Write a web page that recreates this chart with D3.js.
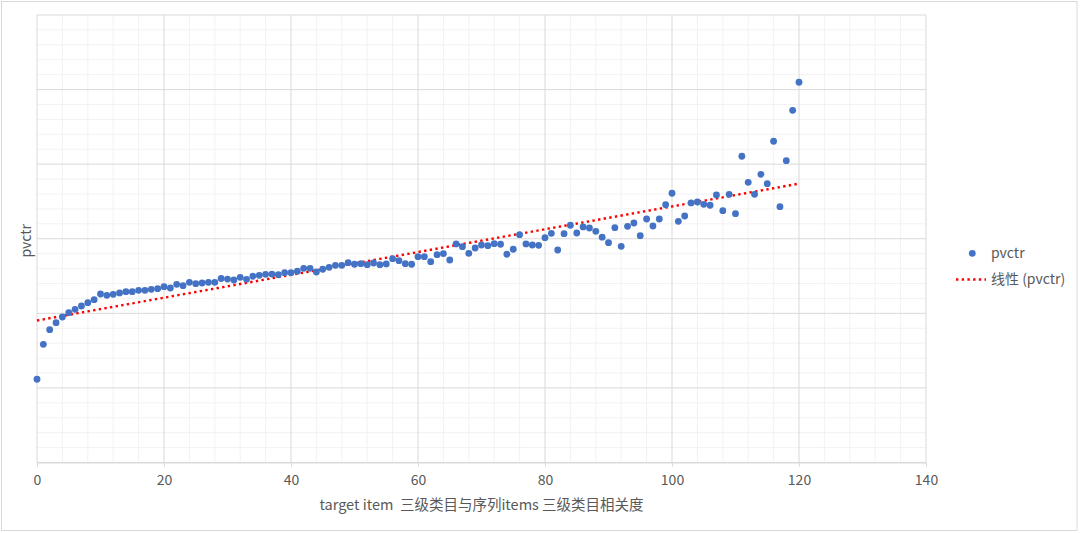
<!DOCTYPE html>
<html><head><meta charset="utf-8">
<script src="https://cdn.jsdelivr.net/npm/d3@7"></script>
<style>
html,body{margin:0;padding:0;background:#fff;}
svg text{font-family:"Noto Sans CJK SC","Noto Sans",sans-serif;fill:#595959;white-space:pre;}
</style></head>
<body><svg id="c" width="1080" height="533"></svg>
<script>
// Data (arbitrary y units; gridlines every 1 unit)
const seriesName = "pvctr";
const trendName = "线性 (pvctr)";
const xTicks = [0, 20, 40, 60, 80, 100, 120, 140];
const xLabel = "target item  三级类目与序列items 三级类目相关度";
const yLabel = "pvctr";
const pvctr = [
 1.116,1.585,1.781,1.875,1.951,2.009,2.054,2.098,2.143,2.183,
 2.259,2.242,2.255,2.273,2.290,2.290,2.309,2.309,2.322,2.330,
 2.357,2.340,2.389,2.371,2.416,2.397,2.407,2.416,2.416,2.467,
 2.460,2.447,2.483,2.456,2.497,2.510,2.523,2.527,2.518,2.545,
 2.545,2.564,2.604,2.604,2.554,2.591,2.617,2.644,2.644,2.679,
 2.658,2.666,2.652,2.675,2.652,2.662,2.733,2.706,2.666,2.658,
 2.759,2.759,2.692,2.786,2.800,2.715,2.930,2.894,2.805,2.876,
 2.916,2.907,2.934,2.926,2.792,2.859,3.054,2.930,2.916,2.912,
 3.014,3.073,2.849,3.068,3.181,3.077,3.158,3.144,3.100,3.021,
 2.947,3.148,2.899,3.167,3.211,3.041,3.265,3.171,3.265,3.457,
 3.610,3.234,3.305,3.480,3.493,3.462,3.449,3.587,3.376,3.596,
 3.336,4.106,3.757,3.596,3.864,3.738,4.307,3.430,4.047,4.722,
 5.098
];
const xVals = pvctr.map((d,i)=>i);

const svg = d3.select("#c");
svg.append("rect").attr("x",1.5).attr("y",1.5).attr("width",1075.5).attr("height",529)
  .attr("fill","#fff").attr("stroke","#D9D9D9").attr("stroke-width",1);

const m = {l:37, r:926, t:15, b:462.5};
const x = d3.scaleLinear().domain([0,140]).range([m.l,m.r]);
const y = d3.scaleLinear().domain([0,6]).range([m.b,m.t]);

const g = svg.append("g");
// minor gridlines
g.selectAll(".mx").data(d3.range(0,141,4).filter(v=>v%20!==0)).join("line")
  .attr("x1",d=>x(d)).attr("x2",d=>x(d)).attr("y1",m.t).attr("y2",m.b)
  .attr("stroke","#F2F2F2");
g.selectAll(".my").data(d3.range(0,6.01,0.2).filter(v=>Math.abs(v-Math.round(v))>0.01)).join("line")
  .attr("y1",d=>y(d)).attr("y2",d=>y(d)).attr("x1",m.l).attr("x2",m.r)
  .attr("stroke","#F2F2F2");
// major gridlines
g.selectAll(".Mx").data(xTicks).join("line")
  .attr("x1",d=>x(d)).attr("x2",d=>x(d)).attr("y1",m.t).attr("y2",m.b)
  .attr("stroke","#D9D9D9");
g.selectAll(".My").data(d3.range(0,7)).join("line")
  .attr("y1",d=>y(d)).attr("y2",d=>y(d)).attr("x1",m.l).attr("x2",m.r)
  .attr("stroke","#D9D9D9");

// x axis
const xAxis = d3.axisBottom(x).tickValues(xTicks).tickSize(4).tickPadding(9);
const ax = svg.append("g").attr("transform",`translate(0,${m.b})`).call(xAxis);
ax.select(".domain").attr("stroke","#D9D9D9");
ax.selectAll(".tick line").attr("stroke","#D9D9D9");
ax.selectAll(".tick text").attr("font-size",14).style("fill","#595959")
  .attr("font-family","'Noto Sans CJK SC','Noto Sans',sans-serif");

// trendline (least squares from data)
const mx = d3.mean(xVals), my = d3.mean(pvctr);
const slope = d3.sum(xVals.map((xv,i)=>(xv-mx)*(pvctr[i]-my))) / d3.sum(xVals.map(xv=>(xv-mx)*(xv-mx)));
const icpt = my - slope*mx;
const x0 = d3.min(xVals), x1 = d3.max(xVals);
svg.append("line")
  .attr("x1",x(x0)).attr("y1",y(icpt+slope*x0))
  .attr("x2",x(x1)).attr("y2",y(icpt+slope*x1))
  .attr("stroke","#FF0000").attr("stroke-width",2.4)
  .attr("stroke-dasharray","2.4 3.3");

// points
svg.append("g").selectAll("circle").data(pvctr).join("circle")
  .attr("cx",(d,i)=>x(xVals[i])).attr("cy",d=>y(d)).attr("r",3.4)
  .attr("fill","#4472C4");

// axis titles
svg.append("text").attr("x",(m.l+m.r)/2).attr("y",510).attr("text-anchor","middle")
  .attr("font-size",14.5).text(xLabel);
svg.append("text").attr("transform",`translate(31,${(m.t+m.b)/2+2}) rotate(-90)`)
  .attr("text-anchor","middle").attr("font-size",14).text(yLabel);

// legend
const lg = svg.append("g");
lg.append("circle").attr("cx",972.3).attr("cy",253.3).attr("r",3.4).attr("fill","#4472C4");
lg.append("text").attr("x",991).attr("y",253.3).attr("dy","0.35em").attr("font-size",14).text(seriesName);
lg.append("line").attr("x1",956).attr("x2",986).attr("y1",279.5).attr("y2",279.5)
  .attr("stroke","#FF0000").attr("stroke-width",2.4).attr("stroke-dasharray","2.4 3.3");
lg.append("text").attr("x",991).attr("y",279.5).attr("dy","0.35em").attr("font-size",14).text(trendName);
</script></body></html>
